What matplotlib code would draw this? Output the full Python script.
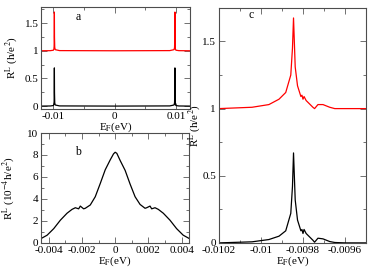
import matplotlib
matplotlib.use("Agg")
import matplotlib.pyplot as plt
from matplotlib.ticker import MultipleLocator, FuncFormatter

plt.rcParams['font.family'] = ['Liberation Serif', 'DejaVu Serif']
plt.rcParams['mathtext.fontset'] = 'stix'

# panel a: wide energy window, two spikes
ea = [-0.0120, -0.0105, -0.0100, -0.00992, -0.00988, -0.00986, -0.00984, -0.00982,
      -0.00978, -0.00970, -0.0090, 0.0, 0.0090, 0.00970, 0.00978, 0.00982,
      0.00984, 0.00986, 0.00988, 0.00992, 0.0100, 0.0105, 0.0122]
ra_black = [0.0, 0.002, 0.01, 0.03, 0.08, 0.30, 0.69, 0.25,
            0.06, 0.02, 0.003, 0.0, 0.003, 0.02, 0.06, 0.25,
            0.69, 0.30, 0.08, 0.03, 0.01, 0.002, 0.0]
ra_red = [1.0, 1.002, 1.01, 1.03, 1.08, 1.30, 1.70, 1.25,
          1.06, 1.02, 1.003, 1.0, 1.003, 1.02, 1.06, 1.25,
          1.70, 1.30, 1.08, 1.03, 1.01, 1.002, 1.0]

# panel b: R^L in units of 1e-4 h/e^2
eb = [-0.00446, -0.0041, -0.0037, -0.0033, -0.0029, -0.0026, -0.0024, -0.0022,
      -0.0021, -0.0019, -0.0018, -0.0015, -0.0012, -0.0009, -0.0006, -0.0003,
      -0.0001, 0.0, 0.0001, 0.0003, 0.0006, 0.0009, 0.0012, 0.0015, 0.0018,
      0.0019, 0.0021, 0.0022, 0.0024, 0.0026, 0.0029, 0.0033, 0.0037, 0.0041, 0.00446]
rb = [0.4, 0.7, 1.3, 2.07, 2.7, 3.05, 3.2, 3.1,
      3.35, 3.1, 3.15, 3.45, 4.2, 5.4, 6.65, 7.55,
      8.1, 8.25, 8.15, 7.5, 6.6, 5.35, 4.2, 3.5, 3.15,
      3.2, 3.35, 3.1, 3.2, 3.05, 2.7, 2.07, 1.3, 0.7, 0.4]

# panel c: zoom on the left spike
ec = [-0.01020, -0.010042, -0.009962, -0.009914, -0.009882, -0.009858, -0.00985,
      -0.009845, -0.009837, -0.009826, -0.00981, -0.009805, -0.0098, -0.009795,
      -0.009785, -0.009753, -0.009745, -0.009729, -0.009705, -0.009673, -0.009649,
      -0.00960, -0.00950]
rc_black = [0.0, 0.008, 0.025, 0.05, 0.09, 0.22, 0.42,
            0.67, 0.32, 0.17, 0.09, 0.10, 0.07, 0.10,
            0.07, 0.02, 0.005, 0.035, 0.03, 0.01, 0.003,
            0.0, 0.0]
rc_red = [1.0, 1.01, 1.03, 1.07, 1.12, 1.25, 1.45,
          1.675, 1.31, 1.17, 1.09, 1.10, 1.07, 1.09,
          1.06, 1.01, 1.0, 1.03, 1.03, 1.01, 1.0,
          1.0, 1.0]

fmt = FuncFormatter(lambda v, p: '%g' % round(v, 8))
ylab = r'R$^{\rm L}$ (h/e$^2$)'
xlab = r'E$_{\rm F}$(eV)'
fs = 8


def style(ax, xmaj, xmin, ymaj, ymin):
    ax.xaxis.set_major_locator(MultipleLocator(xmaj))
    ax.xaxis.set_minor_locator(MultipleLocator(xmin))
    ax.yaxis.set_major_locator(MultipleLocator(ymaj))
    ax.yaxis.set_minor_locator(MultipleLocator(ymin))
    ax.xaxis.set_major_formatter(fmt)
    ax.yaxis.set_major_formatter(fmt)
    ax.tick_params(which='both', direction='in', top=True, right=True,
                   labelsize=fs, width=0.6, color='0.35', pad=2)
    ax.tick_params(which='major', length=4)
    ax.tick_params(which='minor', length=2.5)
    for s in ax.spines.values():
        s.set_linewidth(0.8)
        s.set_color('0.3')


fig = plt.figure(figsize=(3.74, 2.72), dpi=100)

ax_a = fig.add_axes([0.110, 0.599, 0.398, 0.375])
ax_a.plot(ea, ra_red, color='red', lw=0.9)
ax_a.plot(ea, ra_black, color='black', lw=0.9)
ax_a.set_xlim(-0.012, 0.0123)
ax_a.set_ylim(-0.054, 1.79)
style(ax_a, 0.01, 0.005, 0.5, 0.25)
ax_a.set_xlabel(xlab, fontsize=fs, labelpad=0)
ax_a.set_ylabel(ylab, fontsize=fs)
ax_a.yaxis.set_label_coords(-0.14, 0.5)
ax_a.text(0.23, 0.87, 'a', transform=ax_a.transAxes, fontsize=8.5)

ax_b = fig.add_axes([0.110, 0.107, 0.395, 0.404])
ax_b.plot(eb, rb, color='black', lw=0.9)
ax_b.set_xlim(-0.00446, 0.00444)
ax_b.set_ylim(0, 10)
style(ax_b, 0.002, 0.001, 2, 1)
ax_b.set_xlabel(xlab, fontsize=fs, labelpad=0)
ax_b.set_ylabel(r'R$^{\rm L}$ (10$^{-4}$h/e$^2$)', fontsize=fs)
ax_b.yaxis.set_label_coords(-0.165, 0.5)
ax_b.text(0.23, 0.8, 'b', transform=ax_b.transAxes, fontsize=8.5)

ax_c = fig.add_axes([0.585, 0.107, 0.394, 0.864])
ax_c.plot(ec, rc_red, color='red', lw=0.9)
ax_c.plot(ec, rc_black, color='black', lw=0.9)
ax_c.set_xlim(-0.0102, -0.0095)
ax_c.set_ylim(0, 1.75)
style(ax_c, 0.0002, 0.0001, 0.5, 0.25)
ax_c.set_xlabel(xlab, fontsize=fs, labelpad=0)
ax_c.set_ylabel(ylab, fontsize=fs)
ax_c.yaxis.set_label_coords(-0.11, 0.5)
ax_c.text(0.2, 0.955, 'c', transform=ax_c.transAxes, fontsize=8.5)

fig.savefig('out.png', dpi=100)
